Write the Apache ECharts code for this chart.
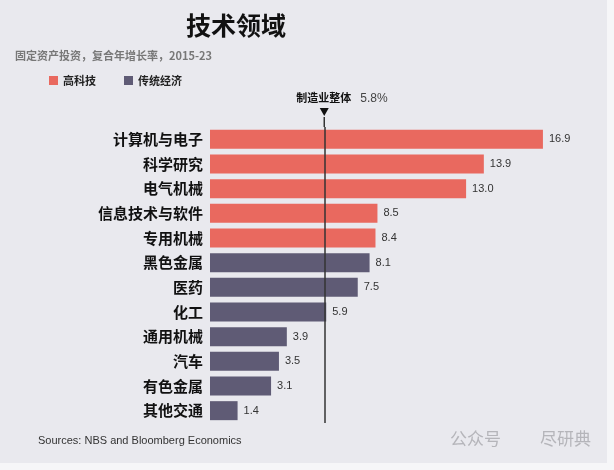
<!DOCTYPE html>
<html>
<head>
<meta charset="utf-8">
<script src="https://cdn.jsdelivr.net/npm/echarts@6/dist/echarts.min.js"></script>
<style>html,body{margin:0;padding:0;background:#f6f6f8;}#c{width:614px;height:470px;}</style>
</head>
<body>
<div id="c"></div>
<script>
const categories = ['计算机与电子','科学研究','电气机械','信息技术与软件','专用机械','黑色金属','医药','化工','通用机械','汽车','有色金属','其他交通'];
const values = [16.9, 13.9, 13.0, 8.5, 8.4, 8.1, 7.5, 5.9, 3.9, 3.5, 3.1, 1.4];
const groups = ['高科技','高科技','高科技','高科技','高科技','传统经济','传统经济','传统经济','传统经济','传统经济','传统经济','传统经济'];
const legendNames = ['高科技','传统经济'];
const manufacturingTotal = 5.8;

const colors = {'高科技':'#e9695f','传统经济':'#5f5b75'};
const FONT = '"Noto Sans CJK SC", "Noto Sans", sans-serif';

const chart = echarts.init(document.getElementById('c'), null, {renderer:'canvas'});

const option = {
  backgroundColor: '#f6f6f8',
  animation: false,
  graphic: [
    {type:'rect', shape:{x:0,y:0,width:607,height:463}, style:{fill:'#e9e9ee'}, z:-10},
    {type:'text', left:186, top:13, style:{text:'技术领域', font:'bold 25px ' + FONT, fill:'#111'}},
    {type:'text', left:15, top:50, style:{text:'固定资产投资，复合年增长率，2015-23', font:'bold 11px ' + FONT, fill:'#777'}},
    {type:'text', left:38, top:435, style:{text:'Sources: NBS and Bloomberg Economics', font:'11px "Liberation Sans Narrow", "Liberation Sans", sans-serif', fill:'#333'}},
    {type:'text', left:450, top:430, style:{text:'公众号', font:'17px ' + FONT, fill:'#b5b5ba'}},
    {type:'text', left:540, top:430, style:{text:'尽研典', font:'17px ' + FONT, fill:'#b5b5ba'}}
  ],
  legend: {
    data: legendNames,
    left: 44, top: 70,
    itemWidth: 9, itemHeight: 9, itemGap: 28,
    icon: 'rect',
    textStyle: {fontFamily: FONT, fontWeight: 'bold', fontSize: 11, color: '#222'}
  },
  grid: {left: 210, right: 10, top: 127, bottom: 47, containLabel: false},
  xAxis: {type:'value', min:0, max:20, show:false, splitLine:{show:false}},
  yAxis: {
    type:'category', data: categories, inverse:true,
    axisLine:{show:false}, axisTick:{show:false},
    axisLabel:{fontFamily: FONT, fontWeight:'bold', fontSize:15, color:'#111', margin:7}
  },
  series: legendNames.map(function(g, gi){
    return {
      name: g, type: 'bar', stack: 'all',
      barWidth: 19,
      itemStyle: {color: colors[g]},
      data: values.map(function(v, i){ return groups[i] === g ? v : '-'; }),
      label: {show:true, position:'right', distance:6, fontFamily:'"Liberation Sans", Arial, sans-serif', fontSize:11, color:'#333',
        formatter: function(p){ return p.value.toFixed(1); }},
      markLine: gi === 0 ? {
        silent:true, symbol:['none','none'],
        lineStyle:{color:'#333', width:1.5, type:'solid'},
        label:{show:false},
        data:[{xAxis: manufacturingTotal}]
      } : undefined,
      z: 2
    };
  })
};
chart.setOption(option);

const gx = chart.convertToPixel({xAxisIndex:0}, manufacturingTotal);
const gridTop = 127;
chart.setOption({
  graphic: option.graphic.concat([
    {type:'line', shape:{x1:gx, y1:gridTop-10, x2:gx, y2:gridTop}, style:{stroke:'#333', lineWidth:1.5}},
    {type:'polygon', shape:{points:[[gx-4.5,gridTop-19],[gx+4.5,gridTop-19],[gx,gridTop-11]]}, style:{fill:'#111'}},
    {type:'text', left:gx - 28, top:gridTop-35, style:{text:'制造业整体', font:'bold 11px ' + FONT, fill:'#111', textAlign:'center'}},
    {type:'text', left:gx + 36, top:gridTop-34, style:{text:'5.8%', font:'12px "Liberation Sans", Arial, sans-serif', fill:'#444'}}
  ])
});
</script>
</body>
</html>
